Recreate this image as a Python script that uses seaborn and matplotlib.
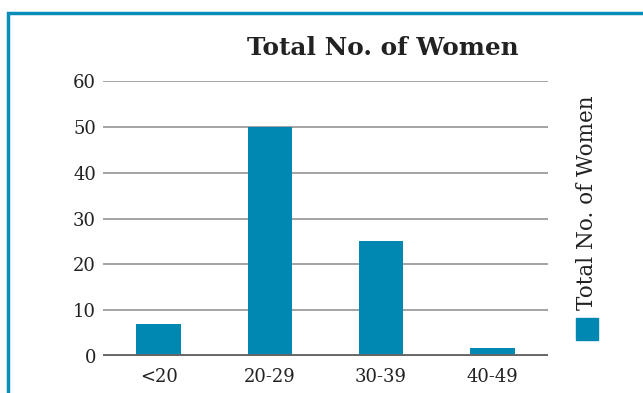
import matplotlib
matplotlib.use("Agg")
import matplotlib.pyplot as plt
import seaborn as sns
import pandas as pd
from matplotlib.patches import Rectangle

categories = ["<20", "20-29", "30-39", "40-49"]
values = [7, 50, 25, 1.7]
series_name = "Total No. of Women"
yticks = [0, 10, 20, 30, 40, 50, 60]

bar_color = "#0088b2"
frame_color = "#0a8db8"
grid_color = "#8a8a8a"
text_color = "#222222"

sns.set_theme(style="white")
plt.rcParams["font.family"] = ["DejaVu Serif"]

df = pd.DataFrame({"cat": categories, "val": values})

W, H = 643, 393
fig = plt.figure(figsize=(W / 100, H / 100), dpi=100)
ax = fig.add_axes([103 / W, 1 - 356 / H, (548 - 103) / W, (356 - 81) / H])

sns.barplot(data=df, x="cat", y="val", color=bar_color, saturation=1, width=0.4,
            linewidth=0, ax=ax, zorder=3)

ax.set_ylim(0, 60)
ax.set_yticks(yticks)
ax.set_xlim(-0.5, len(categories) - 0.5)
for y in yticks[1:]:
    ax.axhline(y, color=grid_color, lw=1.1, zorder=1)
ax.axhline(0, color="#666666", lw=2.8, zorder=4)
for s in ax.spines.values():
    s.set_visible(False)
ax.tick_params(axis="both", length=0, labelsize=13, colors=text_color)
ax.tick_params(axis="y", pad=5)
ax.tick_params(axis="x", pad=8.5)
ax.set_xlabel("")
ax.set_ylabel("")

fig.text(383 / W, 1 - 48 / H, series_name, ha="center", va="center",
         fontsize=17.8, fontweight="bold", color=text_color)

# legend (rotated)
fig.text(587 / W, 1 - 203 / H, series_name, rotation=90, ha="center", va="center",
         fontsize=15.5, color=text_color)
fig.patches.append(Rectangle((576 / W, 1 - 340 / H), 22 / W, 22 / H,
                             transform=fig.transFigure, color=bar_color))

# frame
fig.patches.append(Rectangle((8 / W, -0.1), 1.2, 1 - 13 / H + 0.1, transform=fig.transFigure,
                             fill=False, edgecolor=frame_color, lw=2.5))

fig.savefig("out.png", dpi=100)
